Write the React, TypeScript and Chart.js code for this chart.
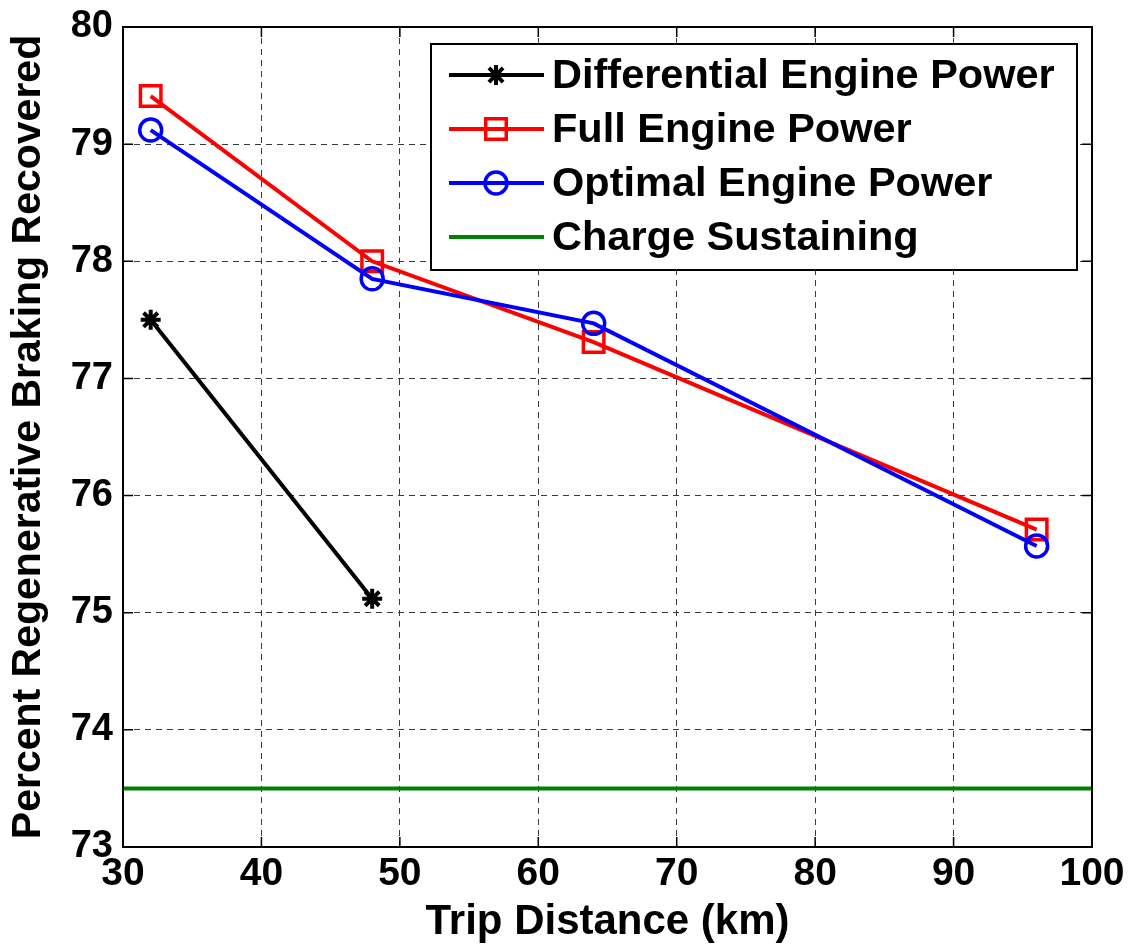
import React, { useEffect, useRef } from "react";
import { Chart, registerables } from "chart.js";
import { drawPoint } from "chart.js/helpers";

Chart.register(...registerables);

const seriesNames = [
  "Differential Engine Power",
  "Full Engine Power",
  "Optimal Engine Power",
  "Charge Sustaining",
];
const diffX = [32, 48];
const diffY = [77.5, 75.12];
const fullX = [32, 48, 64, 96];
const fullY = [79.41, 78.0, 77.31, 75.71];
const optX = [32, 48, 64, 96];
const optY = [79.12, 77.85, 77.47, 75.57];
const csX = [30, 100];
const csY = [73.5, 73.5];

const xTicks = [30, 40, 50, 60, 70, 80, 90, 100];
const yTicks = [73, 74, 75, 76, 77, 78, 79, 80];

const FONT = "'Liberation Sans', Arial, Helvetica, sans-serif";

const toPts = (xs: number[], ys: number[]) => xs.map((x, i) => ({ x, y: ys[i] }));

const boxPlugin = {
  id: "matlabBox",
  afterDatasetsDraw(chart: any) {
    const { ctx, chartArea } = chart;
    const { left, right, top, bottom } = chartArea;
    const xs = chart.scales.x;
    const ys = chart.scales.y;
    ctx.save();
    ctx.strokeStyle = "#000";
    ctx.lineWidth = 1.5;
    ctx.setLineDash([]);
    ctx.beginPath();
    xTicks.forEach((v) => {
      const px = xs.getPixelForValue(v);
      ctx.moveTo(px, bottom);
      ctx.lineTo(px, bottom - 10);
      ctx.moveTo(px, top);
      ctx.lineTo(px, top + 10);
    });
    yTicks.forEach((v) => {
      const py = ys.getPixelForValue(v);
      ctx.moveTo(left, py);
      ctx.lineTo(left + 10, py);
      ctx.moveTo(right, py);
      ctx.lineTo(right - 10, py);
    });
    ctx.stroke();
    ctx.lineWidth = 2;
    ctx.strokeRect(left, top, right - left, bottom - top);

    // legend
    const lx = 431, ly = 44, lw = 646, lh = 226;
    ctx.fillStyle = "#fff";
    ctx.fillRect(lx, ly, lw, lh);
    ctx.strokeStyle = "#000";
    ctx.lineWidth = 2;
    ctx.strokeRect(lx, ly, lw, lh);
    const rows = [75, 129, 183, 237];
    chart.data.datasets.forEach((ds: any, i: number) => {
      const y = rows[i];
      ctx.strokeStyle = ds.borderColor;
      ctx.lineWidth = ds.borderWidth;
      ctx.beginPath();
      ctx.moveTo(449, y);
      ctx.lineTo(544, y);
      ctx.stroke();
      if (ds.pointRadius > 0) {
        ctx.strokeStyle = ds.pointBorderColor;
        ctx.fillStyle = "rgba(0,0,0,0)";
        ctx.lineWidth = ds.pointBorderWidth;
        drawPoint(ctx, { pointStyle: ds.pointStyle, radius: ds.pointRadius, rotation: 0, borderWidth: ds.pointBorderWidth }, 496, y);
      }
      ctx.fillStyle = "#000";
      ctx.font = `bold 41.5px ${FONT}`;
      ctx.textBaseline = "middle";
      ctx.textAlign = "left";
      ctx.fillText(ds.label, 552, y + 2);
    });
    ctx.restore();
  },
};

export default function App() {
  const ref = useRef<HTMLCanvasElement | null>(null);
  useEffect(() => {
    document.body.style.margin = "0";
    document.body.style.overflow = "hidden";
    const canvas = ref.current!;
    const chart = new Chart(canvas, {
      type: "line",
      data: {
        datasets: [
          {
            label: seriesNames[0],
            data: toPts(diffX, diffY),
            borderColor: "#000000",
            borderWidth: 4,
            pointStyle: "star",
            pointRadius: 10,
            pointBorderWidth: 4,
            pointBorderColor: "#000000",
            pointBackgroundColor: "rgba(0,0,0,0)",
            order: 2,
          },
          {
            label: seriesNames[1],
            data: toPts(fullX, fullY),
            borderColor: "#ff0000",
            borderWidth: 4,
            pointStyle: "rect",
            pointRadius: 14.5,
            pointBorderWidth: 3.5,
            pointBorderColor: "#ff0000",
            pointBackgroundColor: "rgba(0,0,0,0)",
            order: 1,
          },
          {
            label: seriesNames[2],
            data: toPts(optX, optY),
            borderColor: "#0000ff",
            borderWidth: 4,
            pointStyle: "circle",
            pointRadius: 11,
            pointBorderWidth: 3.5,
            pointBorderColor: "#0000ff",
            pointBackgroundColor: "rgba(0,0,0,0)",
            order: 0,
          },
          {
            label: seriesNames[3],
            data: toPts(csX, csY),
            borderColor: "#008000",
            borderWidth: 4,
            pointRadius: 0,
            pointStyle: "circle",
            pointBorderWidth: 0,
            pointBorderColor: "#008000",
            order: 3,
          },
        ],
      },
      options: {
        responsive: false,
        animation: false,
        devicePixelRatio: 1,
        layout: { padding: { top: 27, right: 36, left: 0, bottom: 0 } },
        plugins: {
          legend: { display: false },
          tooltip: { enabled: false },
        },
        elements: { line: { tension: 0 } },
        scales: {
          x: {
            type: "linear",
            min: 30,
            max: 100,
            afterFit: (s: any) => {
              s.height = 100;
              s.paddingLeft = 0;
              s.paddingRight = 0;
            },
            afterBuildTicks: (s: any) => {
              s.ticks = xTicks.map((v) => ({ value: v }));
            },
            ticks: {
              color: "#000",
              padding: 4,
              font: { family: FONT, size: 39, weight: "bold" },
              maxRotation: 0,
              callback: (v: any) => String(v),
            },
            grid: { color: "#3a3a3a", lineWidth: 1, tickLength: 0, drawTicks: false },
            border: { display: false, dash: [6, 5] },
            title: {
              display: true,
              text: "Trip Distance (km)",
              color: "#000",
              font: { family: FONT, size: 42, weight: "bold" },
              padding: { top: 0, bottom: -1 },
            },
          },
          y: {
            type: "linear",
            min: 73,
            max: 80,
            afterFit: (s: any) => {
              s.width = 123;
              s.paddingTop = 0;
              s.paddingBottom = 0;
            },
            afterBuildTicks: (s: any) => {
              s.ticks = yTicks.map((v) => ({ value: v }));
            },
            ticks: {
              color: "#000",
              padding: 10,
              font: { family: FONT, size: 38, weight: "bold" },
              callback: (v: any) => String(v),
            },
            grid: { color: "#3a3a3a", lineWidth: 1, tickLength: 0, drawTicks: false },
            border: { display: false, dash: [6, 5] },
            title: {
              display: true,
              text: "Percent Regenerative Braking Recovered",
              color: "#000",
              font: { family: FONT, size: 41, weight: "bold" },
              padding: { top: 4, bottom: 0 },
            },
          },
        },
      },
      plugins: [boxPlugin],
    } as any);
    return () => chart.destroy();
  }, []);
  return <canvas ref={ref} width={1128} height={947} style={{ display: "block" }} />;
}
